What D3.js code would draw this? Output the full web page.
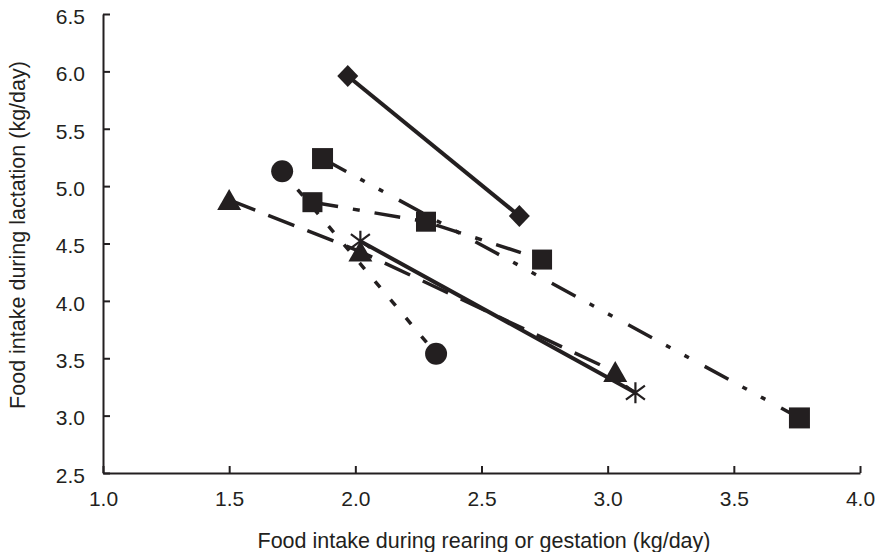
<!DOCTYPE html>
<html>
<head>
<meta charset="utf-8">
<script src="https://cdn.jsdelivr.net/npm/d3@7"></script>
<style>
  html, body { margin: 0; padding: 0; background: #ffffff; }
  svg { display: block; }
  text { font-family: "Liberation Sans", Arial, Helvetica, sans-serif; fill: #231f20; }
</style>
</head>
<body>
<svg id="chart" width="881" height="552"></svg>
<script>
// ---- data ----
const xTicks = [1.0, 1.5, 2.0, 2.5, 3.0, 3.5, 4.0];
const yTicks = [2.5, 3.0, 3.5, 4.0, 4.5, 5.0, 5.5, 6.0, 6.5];
const xTitle = "Food intake during rearing or gestation (kg/day)";
const yTitle = "Food intake during lactation (kg/day)";

const diamondX = [1.97, 2.65];
const diamondY = [5.96, 4.74];

const squareAX = [1.87, 3.76];
const squareAY = [5.24, 2.98];

const squareBX = [1.83, 2.28, 2.74];
const squareBY = [4.86, 4.69, 4.36];

const circleX = [1.71, 2.32];
const circleY = [5.13, 3.54];

const triangleX = [1.50, 2.02, 3.03];
const triangleY = [4.88, 4.43, 3.38];

const starX = [2.02, 3.11];
const starY = [4.52, 3.20];

// ---- layout ----
const ink = "#231f20";
const svg = d3.select("#chart");
const x = d3.scaleLinear().domain([1, 4]).range([103, 860]);
const y = d3.scaleLinear().domain([2.5, 6.5]).range([473, 14]);
const fmt = d3.format(".1f");

// axes
const gx = svg.append("g").attr("transform", "translate(0,473)")
  .call(d3.axisBottom(x).tickValues(xTicks).tickFormat(fmt).tickSizeInner(-7).tickSizeOuter(0).tickPadding(18));
const gy = svg.append("g").attr("transform", "translate(103,0)")
  .call(d3.axisLeft(y).tickValues(yTicks).tickFormat(fmt).tickSizeInner(-7).tickSizeOuter(0).tickPadding(18));
[gx, gy].forEach(g => {
  g.select(".domain").attr("stroke", ink).attr("stroke-width", 2);
  g.selectAll(".tick line").attr("stroke", ink).attr("stroke-width", 2);
  g.selectAll(".tick text").attr("fill", ink).style("font-size", "21px")
    .style("font-family", '"Liberation Sans", Arial, sans-serif');
});
gy.selectAll(".tick text").attr("dy", "0.44em");

svg.append("text").attr("x", 484).attr("y", 548).attr("text-anchor", "middle")
  .style("font-size", "21.5px").text(xTitle);
svg.append("text").attr("transform", "translate(25,235) rotate(-90)").attr("text-anchor", "middle")
  .style("font-size", "21.5px").text(yTitle);

// lines
const series = [
  { xs: triangleX, ys: triangleY, dash: "28,14", w: 3.5 },
  { xs: circleX, ys: circleY, dash: "8,16", w: 3.5 },
  { xs: squareBX, ys: squareBY, dash: "26,15,7,15", w: 3.5 },
  { xs: squareAX, ys: squareAY, dash: "27,16,5,16,5,18", w: 3.5 },
  { xs: starX, ys: starY, dash: null, w: 4 },
  { xs: diamondX, ys: diamondY, dash: null, w: 4 }
];
const line = d3.line().x(d => x(d[0])).y(d => y(d[1]));
series.forEach(s => {
  const pts = s.xs.map((v, i) => [v, s.ys[i]]);
  svg.append("path").datum(pts).attr("d", line)
    .attr("fill", "none").attr("stroke", ink).attr("stroke-width", s.w)
    .attr("stroke-dasharray", s.dash);
});

// markers
function pts(xs, ys) { return xs.map((v, i) => [x(v), y(ys[i])]); }
const mk = svg.append("g");
mk.selectAll(".sqA").data(pts(squareAX, squareAY)).join("rect")
  .attr("x", d => d[0] - 10.5).attr("y", d => d[1] - 10.5).attr("width", 21).attr("height", 21).attr("fill", ink);
mk.selectAll(".sqB").data(pts(squareBX, squareBY)).join("rect")
  .attr("x", d => d[0] - 10).attr("y", d => d[1] - 10).attr("width", 20).attr("height", 20).attr("fill", ink);
mk.selectAll(".dia").data(pts(diamondX, diamondY)).join("path")
  .attr("d", d => `M${d[0]},${d[1]-11}L${d[0]+10.5},${d[1]}L${d[0]},${d[1]+11}L${d[0]-10.5},${d[1]}Z`).attr("fill", ink);
mk.selectAll(".cir").data(pts(circleX, circleY)).join("circle")
  .attr("cx", d => d[0]).attr("cy", d => d[1]).attr("r", 11).attr("fill", ink);
mk.selectAll(".tri").data(pts(triangleX, triangleY)).join("path")
  .attr("d", d => `M${d[0]},${d[1]-11}L${d[0]+12},${d[1]+10}L${d[0]-12},${d[1]+10}Z`).attr("fill", ink);
mk.selectAll(".star").data(pts(starX, starY)).join("path")
  .attr("d", d => `M${d[0]},${d[1]-10.5}L${d[0]},${d[1]+10.5}M${d[0]-9.5},${d[1]-7}L${d[0]+9.5},${d[1]+7}M${d[0]-9.5},${d[1]+7}L${d[0]+9.5},${d[1]-7}`)
  .attr("fill", "none").attr("stroke", ink).attr("stroke-width", 2.2);
</script>
</body>
</html>
